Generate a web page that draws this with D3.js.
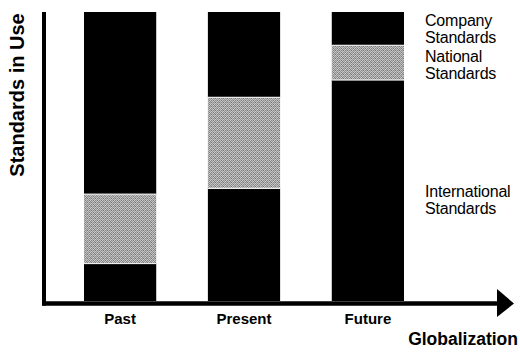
<!DOCTYPE html>
<html>
<head>
<meta charset="utf-8">
<script src="https://cdn.jsdelivr.net/npm/d3@7"></script>
<style>
  html, body { margin: 0; padding: 0; background: #fff; }
  svg { display: block; }
</style>
</head>
<body>
<svg id="chart" width="520" height="352"></svg>
<script>
// ---- data ----
const categories = ["Past", "Present", "Future"];
const internationalStd = [13, 39, 76.5];
const nationalStd = [24, 31.5, 12];
const companyStd = [63, 29.5, 11.5];
const seriesNames = ["International Standards", "National Standards", "Company Standards"];
const axisTitleX = "Globalization";
const axisTitleY = "Standards in Use";

// ---- layout ----
const svg = d3.select("#chart");
const yBottom = 301, yTop = 12;
const x = d3.scaleBand().domain(categories).range([84, 404]).paddingInner(0.417).paddingOuter(0);
const y = d3.scaleLinear().domain([0, 100]).range([yBottom, yTop]);

// halftone-like texture for the grey segments
const defs = svg.append("defs");
const pat = defs.append("pattern").attr("id", "halftone")
  .attr("patternUnits", "userSpaceOnUse").attr("width", 4).attr("height", 4);
const shades = [
  "#b8b8b8", "#7c7c7c", "#c8c8c8", "#8e8e8e",
  "#9a9a9a", "#d0d0d0", "#848484", "#bcbcbc",
  "#c4c4c4", "#8a8a8a", "#b0b0b0", "#767676",
  "#929292", "#c0c0c0", "#9e9e9e", "#cacaca"
];
shades.forEach((c, i) => {
  pat.append("rect").attr("x", i % 4).attr("y", Math.floor(i / 4))
    .attr("width", 1).attr("height", 1).attr("fill", c);
});

const rows = categories.map((c, i) => ({
  cat: c,
  International: internationalStd[i],
  National: nationalStd[i],
  Company: companyStd[i]
}));
const keys = ["International", "National", "Company"];
const stack = d3.stack().keys(keys)(rows);
const fills = { International: "#000", National: "url(#halftone)", Company: "#000" };

const g = svg.append("g");
stack.forEach(layer => {
  g.selectAll(null).data(layer).enter().append("rect")
    .attr("x", d => x(d.data.cat))
    .attr("width", x.bandwidth())
    .attr("y", d => y(d[1]))
    .attr("height", d => y(d[0]) - y(d[1]))
    .attr("fill", fills[layer.key]);
});
// thin light separators between segments
stack.slice(0, -1).forEach(layer => {
  g.selectAll(null).data(layer).enter().append("rect")
    .attr("x", d => x(d.data.cat))
    .attr("width", x.bandwidth())
    .attr("y", d => y(d[1]) - 0.5)
    .attr("height", 1.2)
    .attr("fill", "#eeeeee");
});

// axes
const axisG = svg.append("g");
axisG.append("line").attr("x1", 44).attr("x2", 44).attr("y1", yTop).attr("y2", 305.5)
  .attr("stroke", "#000").attr("stroke-width", 4);
axisG.append("line").attr("x1", 42).attr("x2", 500).attr("y1", 303.5).attr("y2", 303.5)
  .attr("stroke", "#000").attr("stroke-width", 4.5);
axisG.append("path").attr("d", "M497,289 L514,303.5 L497,317 Z").attr("fill", "#000");

// tick labels via axis generator
const xAxis = d3.axisBottom(x).tickSize(0).tickPadding(0);
const xa = svg.append("g").attr("transform", "translate(0,324)").call(xAxis);
xa.select(".domain").remove();
xa.selectAll("text")
  .attr("dy", 0)
  .attr("y", 0)
  .attr("font-family", "Liberation Sans, Arial, sans-serif")
  .attr("font-weight", "bold")
  .attr("font-size", 15)
  .attr("fill", "#000");

// axis titles
svg.append("text").text(axisTitleX)
  .attr("x", 518).attr("y", 345).attr("text-anchor", "end")
  .attr("font-family", "Liberation Sans, Arial, sans-serif")
  .attr("font-weight", "bold").attr("font-size", 17.5).attr("fill", "#000");
svg.append("text").text(axisTitleY)
  .attr("transform", "translate(24,95) rotate(-90)")
  .attr("text-anchor", "middle")
  .attr("font-family", "Liberation Sans, Arial, sans-serif")
  .attr("font-weight", "bold").attr("font-size", 20).attr("fill", "#000");

// series labels beside the last bar
const last = categories[categories.length - 1];
const lh = 17;
const labelOffsets = { International: 9, National: 1.5, Company: -0.5 };
stack.forEach((layer, li) => {
  const d = layer.find(e => e.data.cat === last);
  const mid = (y(d[0]) + y(d[1])) / 2 + labelOffsets[layer.key];
  const words = seriesNames[li].split(" ");
  const t = svg.append("text")
    .attr("font-family", "Liberation Sans, Arial, sans-serif")
    .attr("font-size", 16).attr("letter-spacing", -0.2).attr("fill", "#000");
  words.forEach((w, wi) => {
    t.append("tspan").attr("x", 425).attr("y", mid - 2.5 + wi * lh).text(w);
  });
});
</script>
</body>
</html>
